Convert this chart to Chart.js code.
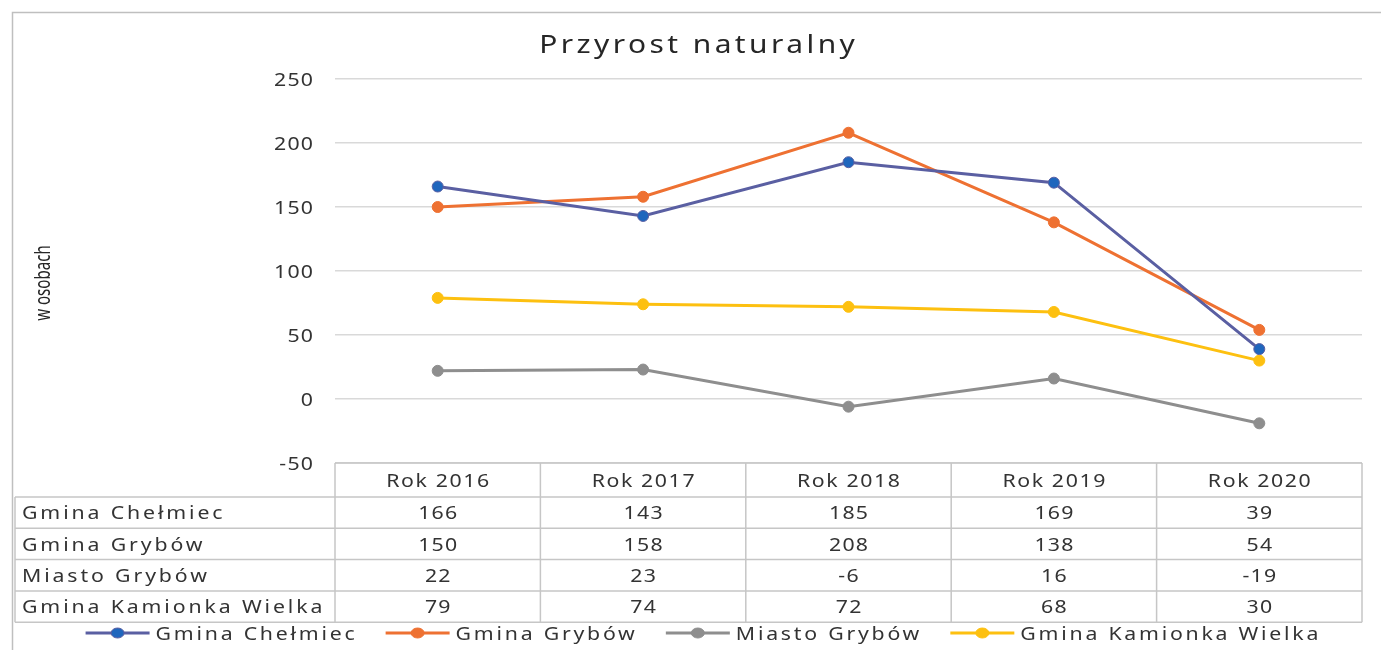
<!DOCTYPE html>
<html>
<head>
<meta charset="utf-8">
<script src="https://cdn.jsdelivr.net/npm/chart.js@4.4.1/dist/chart.umd.min.js"></script>
<style>
  html, body { margin: 0; padding: 0; background: #fff; }
  canvas { display: block; }
</style>
</head>
<body>
<canvas id="chartPrzyrost" width="1381" height="650"></canvas>
<script>
let years = ["Rok 2016", "Rok 2017", "Rok 2018", "Rok 2019", "Rok 2020"];
let seriesNames = ["Gmina Chełmiec", "Gmina Grybów", "Miasto Grybów", "Gmina Kamionka Wielka"];
let chelmiec = [166, 143, 185, 169, 39];
let grybow = [150, 158, 208, 138, 54];
let miastoGrybow = [22, 23, -6, 16, -19];
let kamionka = [79, 74, 72, 68, 30];
let yTicks = [250, 200, 150, 100, 50, 0, -50];

let lineColors = ["#5a5fa2", "#ee7132", "#8e8e8e", "#fdc010"];
let dotColors = ["#1f66bd", "#ee7132", "#8e8e8e", "#fdc010"];
let textColor = "#333333";
let fontName = '"Noto Sans"';

// draws stretched + spaced text (the original picture is a bit wide)
function drawText(ctx, str, x, y, size, align, sx, ls, color) {
  ctx.save();
  ctx.font = size + "px " + fontName;
  ctx.letterSpacing = ls + "px";
  ctx.fillStyle = color || textColor;
  ctx.textBaseline = "middle";
  ctx.textAlign = "left";
  let w = (ctx.measureText(str).width - ls) * sx;
  let left = x;
  if (align === "center") left = x - w / 2;
  if (align === "right") left = x - w;
  ctx.translate(left, y + size * 0.08);
  ctx.scale(sx, 1);
  ctx.fillText(str, 0, 0);
  ctx.restore();
  return w;
}

let extrasPlugin = {
  id: "extras",
  afterDraw(chart) {
    let ctx = chart.ctx;
    let area = chart.chartArea;
    let xs = chart.scales.x;
    let ys = chart.scales.y;

    // frame
    ctx.save();
    ctx.strokeStyle = "#bfbfbf";
    ctx.lineWidth = 1.5;
    ctx.beginPath();
    ctx.moveTo(12.5, 650);
    ctx.lineTo(12.5, 12.5);
    ctx.lineTo(1381, 12.5);
    ctx.stroke();
    ctx.restore();

    // title
    drawText(ctx, "Przyrost naturalny", 697, 44, 26, "center", 1.15, 3, "#262626");

    // y tick labels
    yTicks.forEach((v) => {
      drawText(ctx, String(v), area.left - 22, ys.getPixelForValue(v), 18.5, "right", 1.15, 1.1);
    });

    // y title
    ctx.save();
    ctx.translate(42, 283);
    ctx.rotate(-Math.PI / 2);
    drawText(ctx, "w osobach", 0, 0, 21, "center", 0.72, 0, "#262626");
    ctx.restore();

    // data table
    let step = xs.getPixelForValue(1) - xs.getPixelForValue(0);
    let top = area.bottom;
    let headH = 34;
    let rowH = 31.3;
    let tableLeft = 15;
    let rows = [chelmiec, grybow, miastoGrybow, kamionka];
    let bottom = top + headH + rowH * rows.length;

    ctx.save();
    ctx.strokeStyle = "#c6c6c6";
    ctx.lineWidth = 1.5;
    ctx.beginPath();
    ctx.moveTo(area.left, top);
    ctx.lineTo(area.right, top);
    for (let r = 0; r <= rows.length; r++) {
      let yy = top + headH + r * rowH;
      ctx.moveTo(tableLeft, yy);
      ctx.lineTo(area.right, yy);
    }
    ctx.moveTo(tableLeft, top + headH);
    ctx.lineTo(tableLeft, bottom);
    for (let i = 0; i <= years.length; i++) {
      let xx = xs.getPixelForValue(0) - step / 2 + i * step;
      ctx.moveTo(xx, top);
      ctx.lineTo(xx, bottom);
    }
    ctx.stroke();
    ctx.restore();

    years.forEach((yr, i) => {
      drawText(ctx, yr, xs.getPixelForValue(i), top + headH / 2, 18.5, "center", 1.15, 1.4);
    });
    rows.forEach((vals, r) => {
      let cy = top + headH + r * rowH + rowH / 2;
      drawText(ctx, seriesNames[r], 22, cy, 18.5, "left", 1.15, 2.5);
      vals.forEach((v, i) => {
        drawText(ctx, String(v), xs.getPixelForValue(i), cy, 18.5, "center", 1.15, 1.1);
      });
    });

    // legend
    let ly = 633;
    let ls = 2.4;
    let widths = [];
    ctx.save();
    ctx.font = "18.5px " + fontName;
    ctx.letterSpacing = ls + "px";
    seriesNames.forEach((n) => widths.push((ctx.measureText(n).width - ls) * 1.15));
    ctx.restore();
    let lineLen = 64, gapText = 6, gapItem = 31;
    let total = widths.reduce((a, b) => a + b, 0) + seriesNames.length * (lineLen + gapText) + gapItem * (seriesNames.length - 1);
    let lx = 702 - total / 2;
    seriesNames.forEach((n, k) => {
      ctx.save();
      ctx.strokeStyle = lineColors[k];
      ctx.lineWidth = 3;
      ctx.beginPath();
      ctx.moveTo(lx, ly);
      ctx.lineTo(lx + lineLen, ly);
      ctx.stroke();
      ctx.beginPath();
      ctx.ellipse(lx + lineLen / 2, ly, 6.5, 5, 0, 0, Math.PI * 2);
      ctx.fillStyle = dotColors[k];
      ctx.fill();
      ctx.lineWidth = 1;
      ctx.stroke();
      ctx.restore();
      drawText(ctx, n, lx + lineLen + gapText, ly, 18.5, "left", 1.15, ls);
      lx += lineLen + gapText + widths[k] + gapItem;
    });
  },
};

let allSeries = [chelmiec, grybow, miastoGrybow, kamionka];

let chart = new Chart(document.getElementById("chartPrzyrost").getContext("2d"), {
  type: "line",
  data: {
    labels: years,
    datasets: allSeries.map((d, k) => ({
      label: seriesNames[k],
      data: d,
      borderColor: lineColors[k],
      backgroundColor: dotColors[k],
      pointBackgroundColor: dotColors[k],
      pointBorderColor: lineColors[k],
      pointBorderWidth: 1,
      pointRadius: 5.5,
      borderWidth: 3,
      tension: 0,
    })),
  },
  options: {
    responsive: false,
    animation: false,
    layout: {
      padding: { top: 79, right: 19, bottom: 187, left: 0 },
    },
    plugins: {
      legend: { display: false },
      title: { display: false },
      tooltip: { enabled: false },
    },
    scales: {
      x: {
        display: false,
        offset: true,
      },
      y: {
        min: -50,
        max: 250,
        ticks: { stepSize: 50, display: false },
        border: { display: false },
        grid: { color: "#d9d9d9", lineWidth: 1.5, drawTicks: false },
        afterFit: (scale) => {
          scale.width = 335;
        },
      },
    },
  },
  plugins: [extrasPlugin],
});
</script>
</body>
</html>
